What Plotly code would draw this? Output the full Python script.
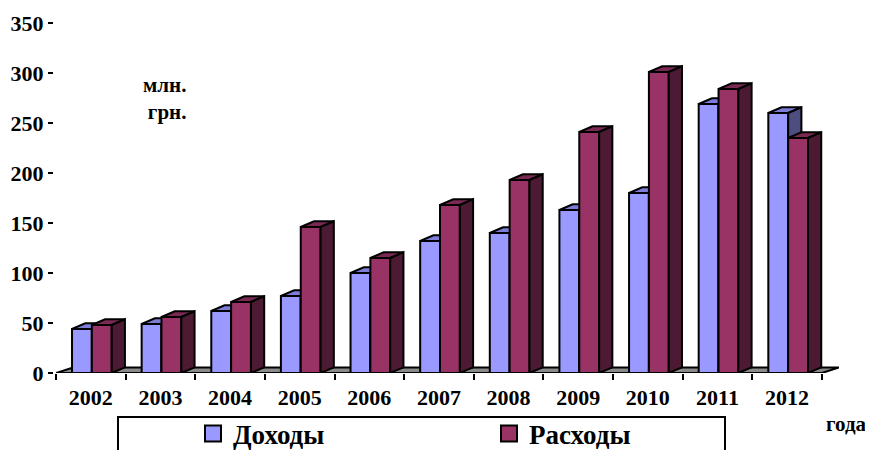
import plotly.graph_objects as go

# ---- data ----
years = ["2002", "2003", "2004", "2005", "2006", "2007", "2008", "2009", "2010", "2011", "2012"]
income = [44, 49, 62, 77, 100, 132, 140, 163, 180, 269, 260]     # Доходы
expense = [48, 56, 71, 146, 115, 168, 193, 241, 301, 284, 235]   # Расходы
y_ticks = [0, 50, 100, 150, 200, 250, 300, 350]

# ---- style / geometry (3D look) ----
W = 0.285            # bar width (x units)
DX, DY = 0.19, 5.7   # depth offset of bar tops/sides
FDX, FDY = 0.245, 5.5  # floor depth
OFF_INC, OFF_EXP = -0.27, 0.015
FONT = "Liberation Serif"

BLUE = dict(front="#9999FF", top="#7D7DD8", side="#4D4D80")
RED = dict(front="#993366", top="#7A2952", side="#4D1A33")


def faces(vals, off):
    tx, ty, sx, sy = [], [], [], []
    for i, v in enumerate(vals):
        x0 = i + off
        x1 = x0 + W
        tx += [x0, x1, x1 + DX, x0 + DX, x0, None]
        ty += [v, v, v + DY, v + DY, v, None]
        sx += [x1, x1 + DX, x1 + DX, x1, x1, None]
        sy += [0, DY, v + DY, v, 0, None]
    return tx, ty, sx, sy


n = len(years)
fig = go.Figure()

# floor
fig.add_trace(go.Scatter(
    x=[-0.5, n - 0.5, n - 0.5 + FDX, -0.5 + FDX, -0.5],
    y=[0, 0, FDY, FDY, 0],
    fill="toself", fillcolor="#8A8A8A", mode="lines",
    line=dict(color="black", width=2), showlegend=False, hoverinfo="skip",
    zorder=0, cliponaxis=False))

z = 1
for name, vals, off, col in [("Доходы", income, OFF_INC, BLUE), ("Расходы", expense, OFF_EXP, RED)]:
    fig.add_trace(go.Bar(
        x=list(range(n)), y=vals, width=W, offset=off, name=name, showlegend=False,
        marker=dict(color=col["front"], line=dict(color="black", width=2)),
        zorder=z))
    tx, ty, sx, sy = faces(vals, off)
    fig.add_trace(go.Scatter(x=tx, y=ty, fill="toself", fillcolor=col["top"], mode="lines",
                             line=dict(color="black", width=2), showlegend=False,
                             hoverinfo="skip", zorder=z + 1, cliponaxis=False))
    fig.add_trace(go.Scatter(x=sx, y=sy, fill="toself", fillcolor=col["side"], mode="lines",
                             line=dict(color="black", width=2), showlegend=False,
                             hoverinfo="skip", zorder=z + 1, cliponaxis=False))
    # legend entry with a larger square swatch
    fig.add_trace(go.Scatter(x=[None], y=[None], mode="markers", name=name,
                             marker=dict(symbol="square", size=16, color=col["front"],
                                         line=dict(color="black", width=2))))
    z += 2

# page body has an 8px margin -> figure is offset by 8px
OX, OY = 8, 8
FW, FH = 873 - OX, 450 - OY
# plot area in page pixels: left 56, right 839, top 23, bottom 373
L, T = 56 - OX, 23 - OY
R = FW - (839 - OX)
B = FH - (373 - OY)
PW = FW - L - R
PH = FH - T - B


def px_x(p):
    return (p - OX - L) / PW


def px_y(p):
    return (FH - B - (p - OY)) / PH


fig.update_layout(
    width=FW, height=FH,
    margin=dict(l=L, r=R, t=T, b=B, autoexpand=False),
    paper_bgcolor="white", plot_bgcolor="white",
    barmode="overlay",
    font=dict(family=FONT, color="black"),
    xaxis=dict(
        range=[-0.5, n - 0.5 + FDX], showgrid=False, zeroline=False, showline=False,
        tickmode="array", tickvals=list(range(n)), ticktext=years, ticks="",
        tickfont=dict(family=FONT, size=22, color="black", weight="bold"),
        ticklabelstandoff=9,
        minor=dict(tickmode="array", tickvals=[i - 0.5 for i in range(n + 1)],
                   ticks="outside", ticklen=6, tickwidth=2, tickcolor="black"),
    ),
    yaxis=dict(
        range=[0, 350], tickmode="array", tickvals=y_ticks, showgrid=False, zeroline=False,
        showline=True, linecolor="black", linewidth=3,
        ticks="outside", ticklen=5, tickwidth=2, tickcolor="black",
        tickfont=dict(family=FONT, size=22, color="black", weight="bold"),
    ),
    legend=dict(
        orientation="h", x=px_x(193), y=px_y(434), xanchor="left", yanchor="middle",
        font=dict(family=FONT, size=27, color="black", weight="bold"),
        entrywidth=251, entrywidthmode="pixels", bgcolor="rgba(0,0,0,0)",
        itemsizing="trace",
    ),
    shapes=[dict(type="rect", xref="paper", yref="paper",
                 x0=px_x(118), x1=px_x(725), y0=px_y(417), y1=px_y(470),
                 line=dict(color="black", width=2), fillcolor="rgba(0,0,0,0)")],
    annotations=[
        dict(text="млн.<br>грн.", xref="paper", yref="paper", x=px_x(188), y=px_y(98),
             xanchor="right", yanchor="middle", align="right", showarrow=False,
             font=dict(family=FONT, size=21, color="black", weight="bold")),
        dict(text="года", xref="paper", yref="paper", x=px_x(824), y=px_y(424),
             xanchor="left", yanchor="middle", showarrow=False,
             font=dict(family=FONT, size=21, color="black", weight="bold")),
    ],
)

fig.write_html("out.html")
